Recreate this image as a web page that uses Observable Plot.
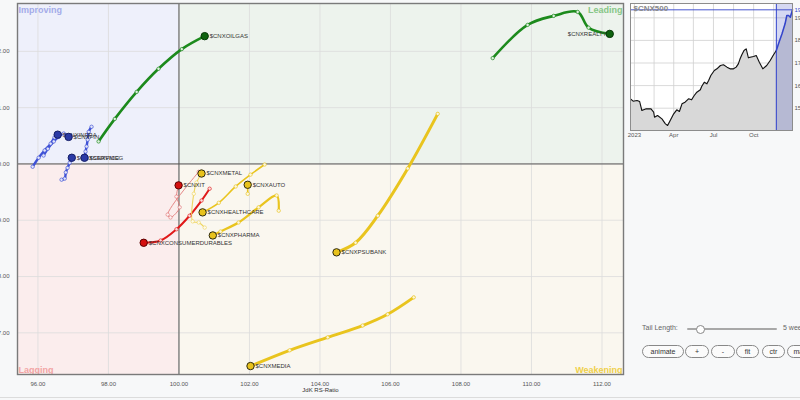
<!DOCTYPE html>
<html><head><meta charset="utf-8">
<script src="https://cdn.jsdelivr.net/npm/d3@7"></script>
<script src="https://cdn.jsdelivr.net/npm/@observablehq/plot@0.6"></script>
<style>
html,body{margin:0;padding:0;background:#f7f8f9;}
#wrap{position:relative;width:800px;height:400px;overflow:hidden;font-family:"Liberation Sans",Arial,sans-serif;background:#f7f8f9;}
#main{position:absolute;left:-23px;top:0;width:660px;}
#mini{position:absolute;left:620px;top:0;width:200px;}
#main svg,#mini svg{max-width:none !important;}
#bottomline{position:absolute;left:0;top:397px;width:800px;height:1px;background:#dcdcdc;}
.ctl{position:absolute;font-size:7px;color:#666;white-space:nowrap;}
.track{position:absolute;left:687px;top:328px;width:90px;height:2px;background:#a8a8a8;border-radius:1px;}
.thumb{position:absolute;left:696px;top:325px;width:7px;height:7px;border-radius:50%;background:#fff;border:1px solid #888;}
.btn{position:absolute;top:345px;height:11px;line-height:11px;border:1px solid #888;border-radius:7px;background:#fbfbfb;font-size:7px;color:#333;text-align:center;}
</style></head>
<body>
<div id="wrap">
  <div id="main"></div>
  <div id="mini"></div>
  <div class="ctl" style="left:642px;top:324px;">Tail Length:</div>
  <div class="track"></div>
  <div class="thumb"></div>
  <div class="ctl" style="left:783px;top:324px;">5 weeks</div>
  <div class="btn" style="left:642px;width:40px;">animate</div>
  <div class="btn" style="left:685px;width:22px;">+</div>
  <div class="btn" style="left:711px;width:22px;">-</div>
  <div class="btn" style="left:736px;width:21px;">fit</div>
  <div class="btn" style="left:762px;width:21px;">ctr</div>
  <div class="btn" style="left:787px;width:24px;">max</div>
  <div id="bottomline"></div>
</div>
<script>
// ---------- RRG data (JdK RS-Ratio, JdK RS-Momentum), oldest -> newest ----------
const xTicks = [96, 98, 100, 102, 104, 106, 108, 110, 112];
const yTicks = [97, 98, 99, 100, 101, 102];
const xDomain = [95.42, 112.61];
const yDomain = [96.26, 102.85];
const quadrantLabels = ["Improving", "Leading", "Lagging", "Weakening"];

const CNXOILGAS = [[97.72,100.40],[98.18,100.80],[98.80,101.28],[99.42,101.69],[100.08,102.04],[100.73,102.27]];
const CNXREALTY = [[108.90,101.88],[109.89,102.47],[110.63,102.63],[111.31,102.70],[111.62,102.42],[112.22,102.31]];
const CNXINFRA = [[95.85,99.95],[96.02,100.11],[96.19,100.24],[96.36,100.36],[96.47,100.47],[96.56,100.52]];
const CNXFIN = [[96.16,100.15],[96.28,100.27],[96.45,100.40],[96.59,100.48],[96.73,100.54],[96.87,100.48]];
const CNXFMCG = [[97.52,100.66],[97.44,100.57],[97.41,100.43],[97.38,100.31],[97.35,100.22],[97.32,100.11]];
const CNXSERVICE = [[96.67,99.72],[96.76,99.74],[96.79,99.85],[96.84,99.93],[96.90,100.02],[96.96,100.11]];
const CNXIT = [[100.56,99.86],[99.68,99.10],[99.76,99.05],[100.02,99.23],[99.93,99.42],[99.99,99.62]];
const CNXCONSUMERDURABLES = [[100.87,99.56],[100.64,99.35],[100.30,99.08],[99.93,98.84],[99.48,98.64],[99.00,98.60]];
const CNXMETAL = [[100.73,98.87],[100.56,98.96],[100.39,98.98],[100.42,99.47],[100.50,99.67],[100.64,99.83]];
const CNXHEALTHCARE = [[102.43,99.99],[102.03,99.81],[101.61,99.60],[101.13,99.31],[100.67,99.14]];
const CNXAUTO = [[101.95,99.47],[101.95,99.63]];
const CNXPHARMA = [[102.83,99.17],[102.77,99.44],[102.26,99.23],[101.69,98.96],[101.18,98.80],[100.96,98.73]];
const CNXPSUBANK = [[107.34,100.89],[106.49,99.92],[105.64,99.08],[105.01,98.60],[104.47,98.43]];
const CNXMEDIA = [[106.66,97.63],[105.92,97.33],[105.21,97.13],[104.22,96.92],[103.14,96.69],[102.03,96.41]];

// ---------- $CNX500 mini chart ----------
const cnx500Dates = ["2022-12-23","2022-12-29","2023-01-07","2023-01-13","2023-01-18","2023-01-28","2023-02-08","2023-02-14","2023-02-16","2023-02-23","2023-03-05","2023-03-13","2023-03-18","2023-03-24","2023-04-01","2023-04-08","2023-04-14","2023-04-20","2023-04-27","2023-05-05","2023-05-12","2023-05-18","2023-05-24","2023-06-01","2023-06-04","2023-06-10","2023-06-16","2023-06-20","2023-06-25","2023-07-03","2023-07-09","2023-07-17","2023-07-24","2023-08-01","2023-08-08","2023-08-16","2023-08-22","2023-08-27","2023-08-31","2023-09-04","2023-09-09","2023-09-14","2023-09-19","2023-09-23","2023-10-01","2023-10-07","2023-10-14","2023-10-22","2023-10-31","2023-11-08","2023-11-16","2023-11-22","2023-11-27","2023-12-05","2023-12-12","2023-12-16","2023-12-20","2023-12-24","2023-12-29"];
const cnx500Values = [15415,15311,15341,15296,14898,14972,14972,14824,14603,14677,14530,14308,14234,14456,14751,14928,14854,15193,15267,15415,15370,15562,15709,15813,15960,16152,16078,16226,16447,16668,16742,16889,16919,16816,16742,16742,16816,16963,17185,17362,17553,17627,17229,17258,17288,17332,17037,16742,16889,17111,17376,17553,17848,18291,18733,19102,19102,19028,19353];
const miniTickDates = ["2023-01-01","2023-04-01","2023-07-01","2023-10-01"];
const miniTickLabels = ["2023","Apr","Jul","Oct"];
const miniGridDates = ["2023-01-01","2023-02-15","2023-04-01","2023-05-16","2023-07-01","2023-08-16","2023-10-01","2023-11-16"];
const miniYTicks = [15000, 16000, 17000, 18000, 19000];
const miniXDomain = ["2022-12-23","2023-12-29"];
const miniYDomain = [14013, 19633];
const tailStart = "2023-11-22";

// ---------- styles ----------
const pal = {
  green:  {line:"#1c8a1c", head:"#0e620e", edge:"#063806"},
  blue:   {line:"#3f52d6", head:"#2b3aa6", edge:"#141d66"},
  red:    {line:"#e01a1a", head:"#d40f0f", edge:"#5a0000"},
  pink:   {line:"#e27b7b", head:"#d40f0f", edge:"#5a0000"},
  yellow: {line:"#e9c41e", head:"#e8c21c", edge:"#2d2a10"},
  lyellow:{line:"#efd560", head:"#e8c21c", edge:"#2d2a10"}
};
const series = [
  {name:"$CNXOILGAS", pts:CNXOILGAS, c:"green", w:2.6},
  {name:"$CNXREALTY", pts:CNXREALTY, c:"green", w:2.6, left:true},
  {name:"$CNXINFRA", pts:CNXINFRA, c:"blue", w:2.4},
  {name:"$CNXFIN", pts:CNXFIN, c:"blue", w:2.4},
  {name:"$CNXSERVICE", pts:CNXSERVICE, c:"blue", w:2.4},
  {name:"$CNXFMCG", pts:CNXFMCG, c:"blue", w:2.4},
  {name:"$CNXIT", pts:CNXIT, c:"pink", w:0.9},
  {name:"$CNXCONSUMERDURABLES", pts:CNXCONSUMERDURABLES, c:"red", w:2},
  {name:"$CNXMETAL", pts:CNXMETAL, c:"lyellow", w:1.1},
  {name:"$CNXHEALTHCARE", pts:CNXHEALTHCARE, c:"yellow", w:1.6},
  {name:"$CNXAUTO", pts:CNXAUTO, c:"yellow", w:1.6},
  {name:"$CNXPHARMA", pts:CNXPHARMA, c:"yellow", w:2.2},
  {name:"$CNXPSUBANK", pts:CNXPSUBANK, c:"yellow", w:3},
  {name:"$CNXMEDIA", pts:CNXMEDIA, c:"yellow", w:3}
];
const X = d => d[0], Y = d => d[1];
const font = "'Liberation Sans', Arial, sans-serif";

const quads = [
  {x1:xDomain[0], x2:100, y1:100, y2:yDomain[1], fill:"#eef0fb"},
  {x1:100, x2:xDomain[1], y1:100, y2:yDomain[1], fill:"#edf3ed"},
  {x1:xDomain[0], x2:100, y1:yDomain[0], y2:100, fill:"#fbeded"},
  {x1:100, x2:xDomain[1], y1:yDomain[0], y2:100, fill:"#faf7ef"}
];

const marks = [
  Plot.rect(quads, {x1:"x1", x2:"x2", y1:"y1", y2:"y2", fill:d=>d.fill}),
  Plot.gridX(xTicks, {stroke:"#dcdcdc", strokeOpacity:1, strokeWidth:0.8}),
  Plot.gridY(yTicks, {stroke:"#dcdcdc", strokeOpacity:1, strokeWidth:0.8}),
  Plot.ruleX([100], {stroke:"#555", strokeWidth:1}),
  Plot.ruleY([100], {stroke:"#555", strokeWidth:1}),
  Plot.text([quadrantLabels[0]], {frameAnchor:"top-left", dx:1, dy:3, lineAnchor:"top", fontSize:9, fontWeight:"bold", fill:"#a3abe9"}),
  Plot.text([quadrantLabels[1]], {frameAnchor:"top-right", dx:-1, dy:3, lineAnchor:"top", fontSize:9, fontWeight:"bold", fill:"#86c686"}),
  Plot.text([quadrantLabels[2]], {frameAnchor:"bottom-left", dx:1, dy:-2, lineAnchor:"bottom", fontSize:9, fontWeight:"bold", fill:"#f2a4a4"}),
  Plot.text([quadrantLabels[3]], {frameAnchor:"bottom-right", dx:-1, dy:-2, lineAnchor:"bottom", fontSize:9, fontWeight:"bold", fill:"#efd04a"}),
  Plot.frame({stroke:"#7a7a7a", strokeWidth:1.4}),
  Plot.text(["JdK RS-Ratio"], {frameAnchor:"bottom", dy:17, fontSize:6, fill:"#333"})
];
for (const s of series) {
  const p = pal[s.c];
  marks.push(Plot.line(s.pts, {x:X, y:Y, curve:"catmull-rom", stroke:p.line, strokeWidth:s.w, strokeLinecap:"round", strokeLinejoin:"round"}));
}
for (const s of series) {
  const p = pal[s.c];
  marks.push(Plot.dot(s.pts.slice(0, -1), {x:X, y:Y, r:1.7, fill:"#fff", fillOpacity:0.85, stroke:p.line, strokeWidth:0.7}));
}
for (const s of series) {
  const last = s.pts[s.pts.length - 1];
  marks.push(Plot.text([last], {x:X, y:Y, text:() => s.name, dx: s.left ? -3 : 5, textAnchor: s.left ? "end" : "start", fontSize:6, fill:"#333"}));
}
for (const s of series) {
  const p = pal[s.c];
  const last = s.pts[s.pts.length - 1];
  marks.push(Plot.dot([last], {x:X, y:Y, r:3.7, fill:p.head, stroke:p.edge, strokeWidth:1}));
}

const main = Plot.plot({
  width: 646, height: 400,
  marginLeft: 40, marginRight: 0, marginTop: 3, marginBottom: 26,
  style: {fontSize:"6px", fontFamily:font, background:"transparent", color:"#555", overflow:"visible", maxWidth:"none"},
  x: {domain:xDomain, ticks:xTicks, tickFormat:d => d.toFixed(2), tickSize:0, tickPadding:7, label:null},
  y: {domain:yDomain, ticks:yTicks, tickFormat:d => d.toFixed(2), tickSize:0, tickPadding:8, label:null},
  marks
});
document.getElementById("main").appendChild(main);

// ---------- mini chart ----------
const priceData = cnx500Dates.map((d, i) => ({date:new Date(d), value:cnx500Values[i]}));
const ts = new Date(tailStart);
const lastVal = cnx500Values[cnx500Values.length - 1];
const mini = Plot.plot({
  width: 192, height: 145,
  marginLeft: 10, marginRight: 20, marginTop: 3, marginBottom: 15,
  style: {fontSize:"6px", fontFamily:font, background:"transparent", color:"#555", overflow:"visible", maxWidth:"none"},
  x: {type:"utc", domain:miniXDomain.map(d => new Date(d)), ticks:miniTickDates.map(d => new Date(d)),
      tickFormat:(d, i) => miniTickLabels[i], tickSize:0, tickPadding:2, label:null},
  y: {domain:miniYDomain, ticks:miniYTicks, axis:"right", tickSize:0, tickPadding:2, label:null, tickFormat:d => String(d)},
  marks: [
    Plot.frame({fill:"#ffffff"}),
    Plot.gridX(miniGridDates.map(d => new Date(d)), {stroke:"#cfcfcf", strokeOpacity:1, strokeWidth:0.8}),
    Plot.gridY(miniYTicks, {stroke:"#cfcfcf", strokeOpacity:1, strokeWidth:0.8}),
    Plot.areaY(priceData, {x:"date", y1:miniYDomain[0], y2:"value", fill:"#d8d8d8"}),
    Plot.rect([0], {x1:ts, x2:new Date(miniXDomain[1]), y1:miniYDomain[0], y2:miniYDomain[1], fill:"#3f4dc4", fillOpacity:0.22}),
    Plot.line(priceData.filter(d => d.date <= ts), {x:"date", y:"value", stroke:"#111", strokeWidth:1.1}),
    Plot.line(priceData.filter(d => d.date >= ts), {x:"date", y:"value", stroke:"#3344cc", strokeWidth:1.5}),
    Plot.ruleX([ts], {stroke:"#3344cc", strokeWidth:1}),
    Plot.ruleY([lastVal], {stroke:"#3344cc", strokeWidth:0.9}),
    Plot.text([lastVal], {frameAnchor:"right", y:d => d, dx:2, textAnchor:"start", fontSize:6, fill:"#3344cc", text:d => String(d)}),
    Plot.text(["$CNX500"], {frameAnchor:"top-left", dx:3, dy:2, lineAnchor:"top", fontSize:8, fontWeight:"bold", fill:"#8a8a8a"}),
    Plot.frame({stroke:"#8c8c8c", strokeWidth:1})
  ]
});
document.getElementById("mini").appendChild(mini);
</script>
</body></html>
